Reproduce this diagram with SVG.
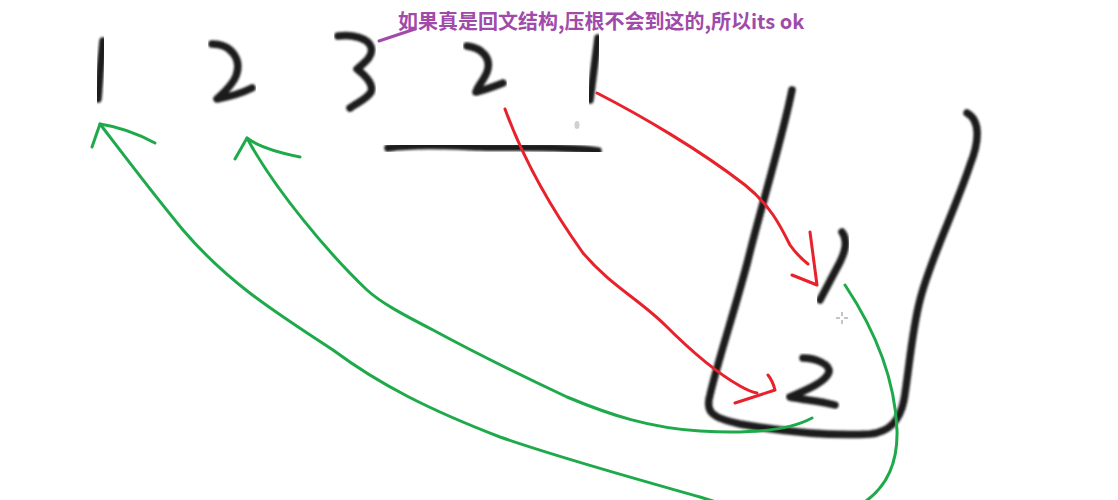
<svg xmlns="http://www.w3.org/2000/svg" width="1118" height="500" viewBox="0 0 1118 500">
<defs>
<filter id="soft" x="-10%" y="-10%" width="120%" height="120%"><feGaussianBlur stdDeviation="0.9"/></filter>
</defs>
<style>
.ink{fill:none;stroke:#1f1f1f;stroke-width:7.5;stroke-linecap:round;stroke-linejoin:round;filter:url(#soft)}
.red{fill:none;stroke:#e8212b;stroke-width:3;stroke-linecap:round;stroke-linejoin:round}
.green{fill:none;stroke:#1eaa4a;stroke-width:3;stroke-linecap:round;stroke-linejoin:round}
.note{font-family:"Noto Sans CJK SC","Microsoft YaHei",sans-serif;font-weight:bold;font-size:20px;fill:#a04aaa}
</style>
<rect width="1118" height="500" fill="#ffffff"/>
<g id="digit-1a"><path class="ink" d="M103,41 Q100,70 98,99"/></g>
<g id="digit-2a"><path class="ink" d="M212,44 C232,44 242,60 236,76 C232,86 222,94 217,99 C228,97 242,93 252,88"/></g>
<g id="digit-3"><path class="ink" d="M338,36 C352,34 368,38 371,47 C374,56 364,63 357,69 C366,76 374,84 371,92 C366,100 356,103 350,108"/></g>
<g id="digit-2b"><path class="ink" d="M467,46 C482,48 492,58 487,72 C484,80 477,87 476,92 C485,90 495,86 503,83"/></g>
<g id="digit-1b"><path class="ink" d="M598,38 Q594,70 590,100"/></g>
<g id="underline"><path class="ink" d="M388,148 C420,144 450,146 480,147 C520,148 560,146 598,151"/><ellipse cx="577" cy="125" rx="2.5" ry="4" fill="#d0d0d0"/></g>
<g id="stack">
<path class="ink" d="M792,90 C782,140 760,210 748,260 C735,310 718,360 710,395 C705,412 712,418 740,424 C780,431 830,436 870,434 C890,432 900,420 904,400 C909,370 912,330 920,300 C930,260 955,210 970,165 C980,140 980,120 967,113"/>
</g>
<g id="stack-1"><path class="ink" d="M842,232 C848,240 846,250 840,262 L820,300"/></g>
<g id="stack-2"><path class="ink" d="M803,358 C815,358 830,364 829,372 C826,382 806,390 790,397 C805,400 820,401 835,405"/></g>
<g id="cursor" stroke="#8a8a8a" stroke-width="1">
<line x1="842" y1="312" x2="842" y2="316"/><line x1="842" y1="320" x2="842" y2="324"/>
<line x1="836" y1="318" x2="840" y2="318"/><line x1="844" y1="318" x2="848" y2="318"/>
</g>
<g id="connectors">
<path class="red" d="M597,93 C640,115 700,150 745,185 C770,205 780,225 790,245 C797,255 803,260 808,264"/>
<path class="red" d="M810,232 L817,285 L792,275"/>
<path class="red" d="M505,109 C520,150 545,200 583,253 C610,285 640,300 665,325 C690,350 715,372 740,386 C747,390 752,392 757,393"/>
<path class="red" d="M768,375 C772,380 774,386 775,390 L735,403"/>
<path class="green" d="M812,418 C790,430 750,434 700,431 C650,428 610,415 567,397 C520,375 470,350 433,330 C400,313 380,302 367,290 C330,255 275,190 247,138"/>
<path class="green" d="M235,159 L247,138 C260,148 280,153 300,157"/>
<path class="green" d="M845,285 C875,330 895,380 897,430 C898,465 885,490 860,505 C820,530 740,510 700,497 C640,480 560,458 500,437 C430,410 380,385 333,350 C280,315 230,285 183,230 C150,190 120,150 100,124"/>
<path class="green" d="M92,147 L100,124 C120,127 140,135 155,143"/>
</g>
<g id="note">
<path d="M379,41 L415,29" stroke="#a04aaa" stroke-width="3" stroke-linecap="round" fill="none"/>
<text class="note" x="398" y="29">如果真是回文结构,压根不会到这的,所以its ok</text>
</g>
</svg>
